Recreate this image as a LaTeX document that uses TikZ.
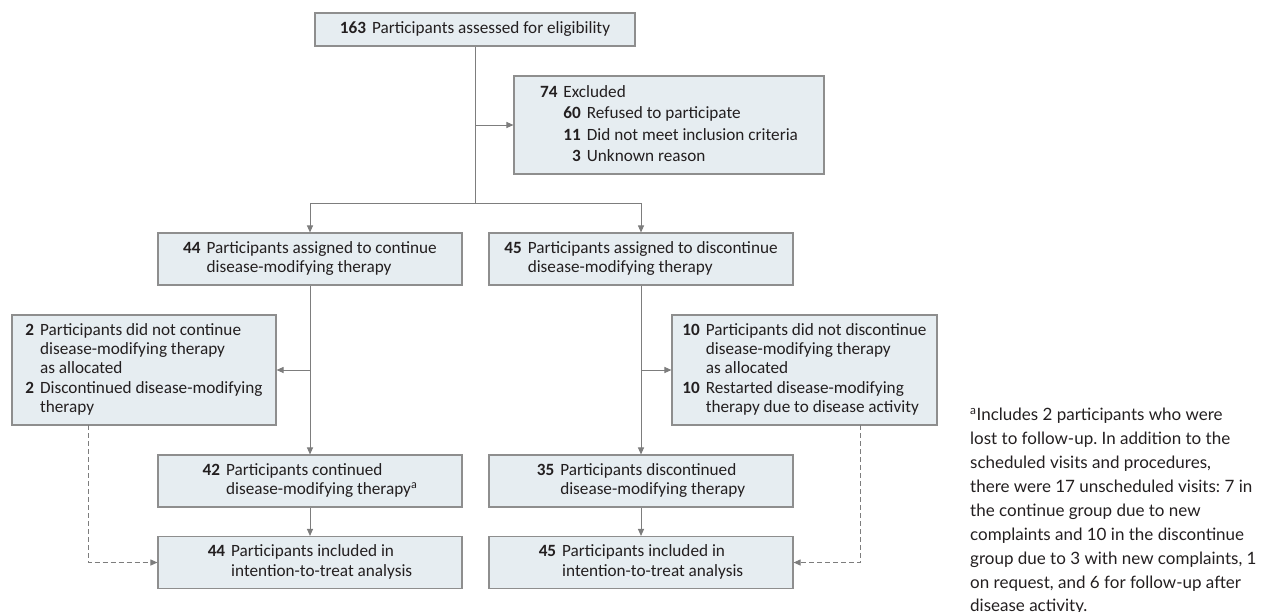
\documentclass[tikz,border=0pt]{standalone}
\usepackage{fontspec}
\setmainfont{Carlito}
\newfontfamily\notefont{Lato}
\usetikzlibrary{arrows.meta}
\frenchspacing
\definecolor{boxfill}{HTML}{E6EDF1}
\definecolor{boxline}{HTML}{8E8E8E}
\definecolor{arrcol}{HTML}{7D7D7D}
\definecolor{txtcol}{HTML}{231F20}
\newcommand{\nbox}[1]{\begin{tabular}{@{}r@{\hspace{6pt}}l@{}}#1\end{tabular}}
\begin{document}
\begin{tikzpicture}[x=1pt,y=-1pt,
  fbox/.style={draw=boxline, fill=boxfill, line width=1.1pt, inner sep=0pt,
    text=txtcol, font=\fontsize{17.2}{19.3}\selectfont},
  conn/.style={draw=arrcol, line width=1pt, -{Triangle[length=7pt,width=6pt]}},
  plainline/.style={draw=arrcol, line width=1pt},
  dconn/.style={conn, dash pattern=on 5pt off 3pt}]
\useasboundingbox (0,0) rectangle (1265,611);

\node[fbox, minimum width=320pt, minimum height=33pt] (elig) at (475,29.5)
  {\textbf{163}\hspace{6pt}Participants assessed for eligibility};

\node[fbox, minimum width=310pt, minimum height=98pt, font=\fontsize{17.2}{21.5}\selectfont] (excl) at (669,125)
  {\begin{tabular}{@{}r@{\hspace{6pt}}r@{\hspace{6pt}}l@{}}
   \textbf{74} & \multicolumn{2}{@{}l@{}}{Excluded}\\
   & \textbf{60} & Refused to participate\\
   & \textbf{11} & Did not meet inclusion criteria\\
   & \textbf{3} & Unknown reason
   \end{tabular}};

\node[fbox, minimum width=304pt, minimum height=52pt] (a44) at (310,259)
  {\nbox{\textbf{44} & Participants assigned to continue\\ & disease-modifying therapy}};
\node[fbox, minimum width=304pt, minimum height=52pt] (a45) at (641,259)
  {\nbox{\textbf{45} & Participants assigned to discontinue\\ & disease-modifying therapy}};

\node[fbox, minimum width=264pt, minimum height=110pt] (d2) at (144,370)
  {\nbox{\textbf{2} & Participants did not continue\\ & disease-modifying therapy\\ & as allocated\\
   \textbf{2} & Discontinued disease-modifying\\ & therapy}};
\node[fbox, minimum width=265pt, minimum height=110pt] (d10) at (804.5,370)
  {\nbox{\textbf{10} & Participants did not discontinue\\ & disease-modifying therapy\\ & as allocated\\
   \textbf{10} & Restarted disease-modifying\\ & therapy due to disease activity}};

\node[fbox, minimum width=304pt, minimum height=52pt] (c42) at (310,481)
  {\nbox{\textbf{42} & Participants continued\\ & disease-modifying therapy\textsuperscript{a}}};
\node[fbox, minimum width=304pt, minimum height=52pt] (c35) at (641,481)
  {\nbox{\textbf{35} & Participants discontinued\\ & disease-modifying therapy}};

\node[fbox, minimum width=304pt, minimum height=52pt] (itt44) at (310,562.5)
  {\nbox{\textbf{44} & Participants included in\\ & intention-to-treat analysis}};
\node[fbox, minimum width=304pt, minimum height=52pt] (itt45) at (641,562.5)
  {\nbox{\textbf{45} & Participants included in\\ & intention-to-treat analysis}};

\node[anchor=north west, inner sep=0pt, align=left, text=txtcol,
      font=\notefont\fontsize{17}{23.9}\selectfont] (note) at (970,408)
  {\textsuperscript{a}Includes 2 participants who were\\
   lost to follow-up. In addition to the\\
   scheduled visits and procedures,\\
   there were 17 unscheduled visits: 7 in\\
   the continue group due to new\\
   complaints and 10 in the discontinue\\
   group due to 3 with new complaints, 1\\
   on request, and 6 for follow-up after\\
   disease activity.};

\coordinate (split) at (475,203);
\coordinate (dlt) at (88,425);
\coordinate (drt) at (860,425);

\draw[plainline] (elig.south) -- (split);
\draw[conn] (elig.south |- excl.west) -- (excl.west);
\draw[conn] (split) -| (a44.north);
\draw[conn] (split) -| (a45.north);
\draw[conn] (a44.south) -- (c42.north);
\draw[conn] (a45.south) -- (c35.north);
\draw[conn] (a44.south |- d2.east) -- (d2.east);
\draw[conn] (a45.south |- d10.west) -- (d10.west);
\draw[conn] (c42.south) -- (itt44.north);
\draw[conn] (c35.south) -- (itt45.north);
\draw[dconn] (dlt) |- (itt44.west);
\draw[dconn] (drt) |- (itt45.east);
\end{tikzpicture}
\end{document}
